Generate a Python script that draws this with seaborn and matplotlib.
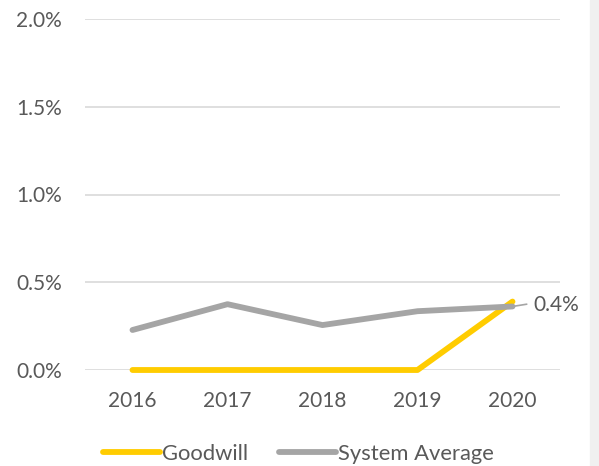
import matplotlib
matplotlib.use("Agg")
import matplotlib.pyplot as plt
import seaborn as sns
import pandas as pd
from matplotlib.patches import Rectangle
from matplotlib.lines import Line2D

years = ["2016", "2017", "2018", "2019", "2020"]
goodwill = [0.0, 0.0, 0.0, 0.0, 0.39]
system_avg = [0.228, 0.375, 0.256, 0.335, 0.362]
yticks = [0.0, 0.5, 1.0, 1.5, 2.0]
label_text = "0.4%"

df = pd.DataFrame({
    "x": list(range(len(years))) * 2,
    "value": goodwill + system_avg,
    "series": ["Goodwill"] * len(years) + ["System Average"] * len(years),
})

sns.set_theme(style="white")
plt.rcParams['font.family'] = ['Lato', 'DejaVu Sans']
txt = "#595959"
fs = 15

fig = plt.figure(figsize=(5.99, 4.66), dpi=100)
fig.patches.append(Rectangle((590/599, 0), 9/599, 1, transform=fig.transFigure,
                             color="#f0f0f0", zorder=0))
ax = fig.add_axes([85/599, (466-370)/466, 475/599, 351/466])
ax.set_facecolor("none")

palette = {"Goodwill": "#ffcc00", "System Average": "#a5a5a5"}
sns.lineplot(data=df, x="x", y="value", hue="series", palette=palette,
             linewidth=4.2, ax=ax, legend=False, zorder=3,
             hue_order=["Goodwill", "System Average"])
for ln in ax.lines:
    ln.set_clip_on(False)

ax.set_xlim(-0.5, 4.5)
ax.set_ylim(0, 2.0)
ax.set_yticks(yticks)
ax.set_yticklabels([f"{v:.1f}%" for v in yticks], color=txt, fontsize=fs)
ax.set_xticks(range(len(years)))
ax.set_xticklabels(years, color=txt, fontsize=fs)
ax.tick_params(axis="y", length=0, pad=16.5)
ax.tick_params(axis="x", length=0, pad=15)
ax.grid(axis="y", color="#d9d9d9", linewidth=1.2)
ax.set_axisbelow(True)
for s in ax.spines.values():
    s.set_visible(False)
ax.set_xlabel("")
ax.set_ylabel("")

# leader line + label
ax.plot([4, 4.15], [system_avg[-1], 0.375], color="#a5a5a5", linewidth=1.2, zorder=2)
ax.text(4.22, 0.372, label_text, color=txt, fontsize=fs, va="center", ha="left")

# legend
handles = [Line2D([0], [0], color=palette[k], linewidth=4.2) for k in palette]
fig.legend(handles, list(palette.keys()), loc="center", bbox_to_anchor=(0.498, 0.026),
           ncol=2, frameon=False, fontsize=15.8, handlelength=2.6, handletextpad=0.1,
           columnspacing=1.4, labelcolor=txt)

fig.savefig("out.png", dpi=100)
